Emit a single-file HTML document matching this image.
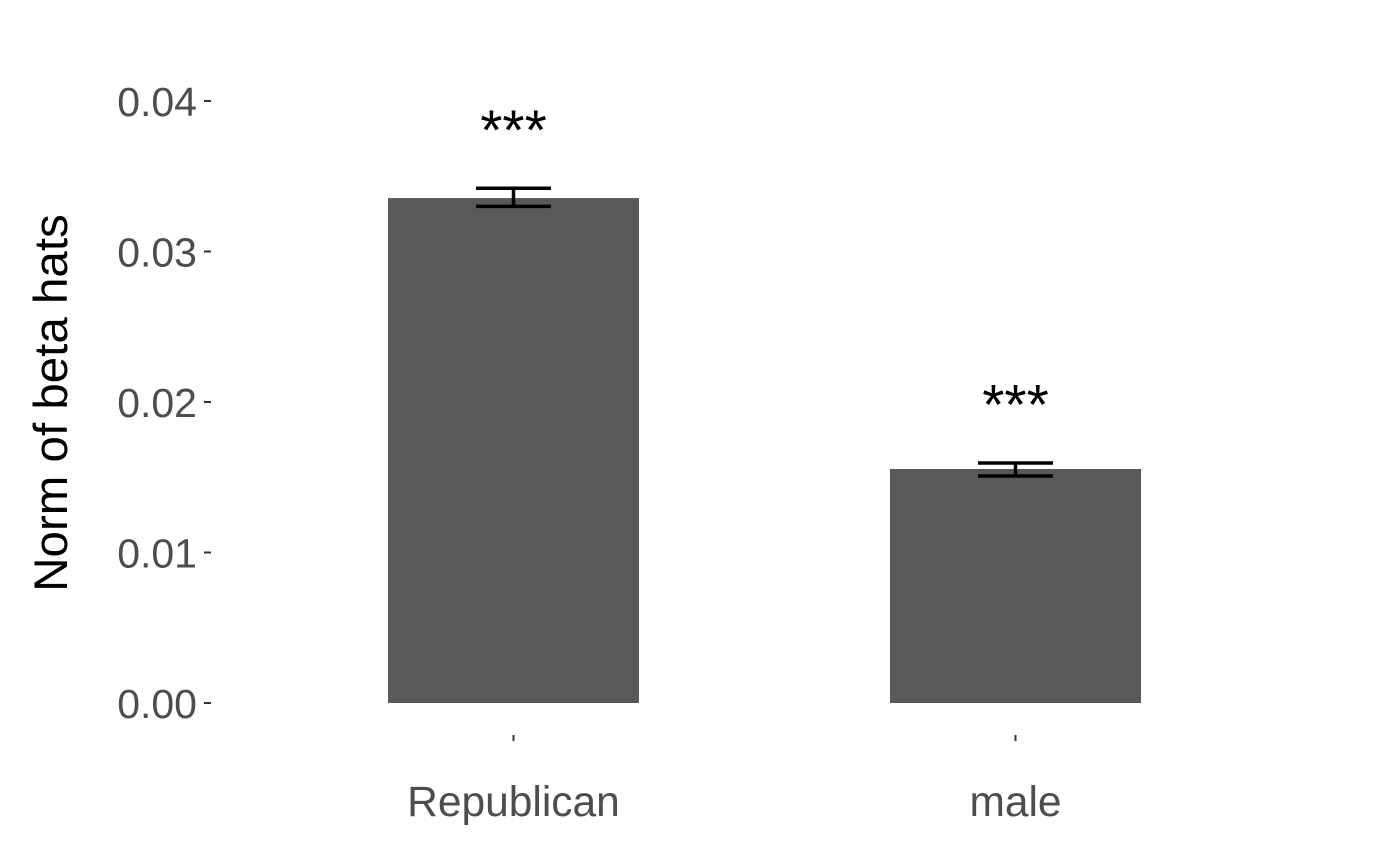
<!DOCTYPE html>
<html><head><meta charset="utf-8"><style>
html,body{margin:0;padding:0;background:#fff}
svg{display:block;font-family:"Liberation Sans",Arial,sans-serif}
</style></head><body>
<svg id="chart" width="1388" height="854" viewBox="0 0 1388 854">
<text transform="translate(67,403) rotate(-90)" text-anchor="middle" font-size="47.5" fill="#000">Norm of beta hats</text>
<g id="yaxis"></g>
<g id="xaxis"></g>
<g id="bars"></g>
</svg>
<script>
const categories = ["Republican", "male"];
const means = [0.03355, 0.01555];
const lower = [0.0330, 0.01508];
const upper = [0.0342, 0.01595];
const stars = ["***", "***"];
const yTicks = [0, 0.01, 0.02, 0.03, 0.04];
const yTickLabels = ["0.00", "0.01", "0.02", "0.03", "0.04"];

const NS = "http://www.w3.org/2000/svg";
const y0 = 703, pxPerUnit = 15050;
function yScale(v){ return y0 - v * pxPerUnit; }
function xScale(i){ return 513.5 + i * 502; }
const barW = 251, capW = 75;
function mk(tag, attrs, parent){ const e = document.createElementNS(NS, tag); for (const k in attrs) e.setAttribute(k, attrs[k]); parent.appendChild(e); return e; }

const ya = document.getElementById('yaxis');
yTicks.forEach((t, i) => {
  const tk = mk('line', {x1:204, x2:211, y1:yScale(t), y2:yScale(t), stroke:'#333', 'stroke-width':2}, ya);
  
  
  const lb = mk('text', {x:197, y:yScale(t)+15, 'text-anchor':'end', 'font-size':41, fill:'#4d4d4d'}, ya);
  lb.textContent = yTickLabels[i];
  
  
});

const xa = document.getElementById('xaxis');
const bg = document.getElementById('bars');
categories.forEach((c, i) => {
  const cx = xScale(i);
  const tk = mk('line', {x1:cx, x2:cx, y1:735, y2:741, stroke:'#333', 'stroke-width':2}, xa);
  
  
  const lb = mk('text', {x:cx, y:816, 'text-anchor':'middle', 'font-size':42.5, fill:'#4d4d4d'}, xa);
  lb.textContent = c;
  
  

  const b = mk('rect', {x:cx-barW/2, y:yScale(means[i]), width:barW, height:y0-yScale(means[i]), fill:'#595959'}, bg);
  
  

  const eg = mk('g', {stroke:'#000', 'stroke-width':3.5}, bg);
  
  
  mk('line', {x1:cx, x2:cx, y1:yScale(upper[i]), y2:yScale(lower[i])}, eg);
  mk('line', {x1:cx-capW/2, x2:cx+capW/2, y1:yScale(upper[i]), y2:yScale(upper[i])}, eg);
  mk('line', {x1:cx-capW/2, x2:cx+capW/2, y1:yScale(lower[i]), y2:yScale(lower[i])}, eg);

  const st = mk('text', {x:cx, y:yScale(upper[i] + 0.0043) + 26, 'text-anchor':'middle', 'font-size':57, fill:'#000'}, bg);
  st.textContent = stars[i];
  
  
});
</script>
</body></html>
